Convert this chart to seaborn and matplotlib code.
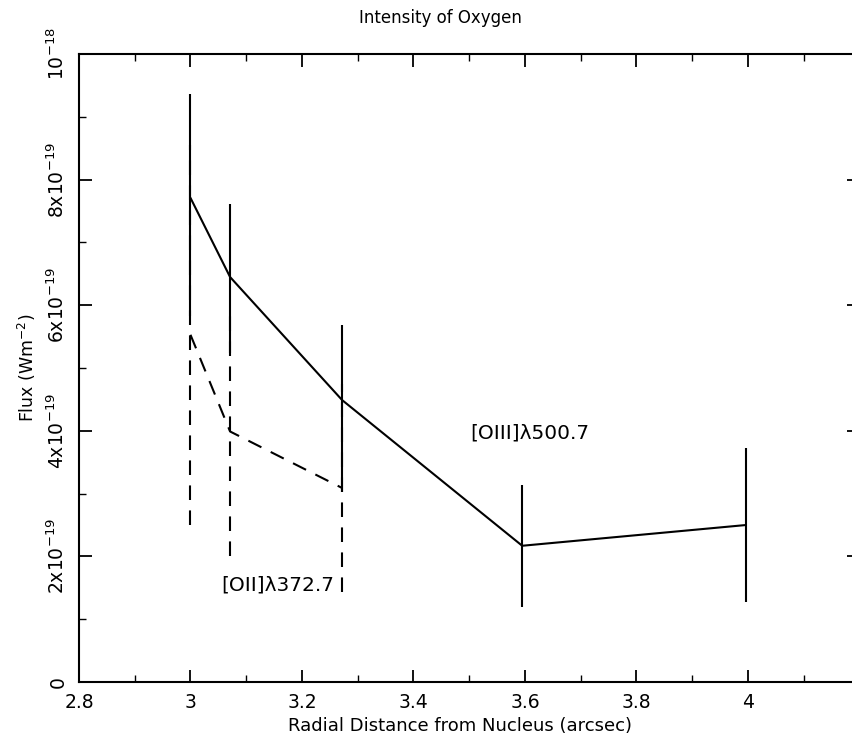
import numpy as np
import pandas as pd
import matplotlib
matplotlib.use("Agg")
import matplotlib.pyplot as plt
import seaborn as sns
from matplotlib.ticker import MultipleLocator, FixedLocator, FixedFormatter

# [OIII] 500.7 (solid)
x_oiii = [3.0, 3.071, 3.272, 3.595, 3.996]
f_oiii = [7.71e-19, 6.45e-19, 4.49e-19, 2.17e-19, 2.50e-19]
lo_oiii = [5.83e-19, 5.24e-19, 3.03e-19, 1.20e-19, 1.27e-19]
hi_oiii = [9.36e-19, 7.61e-19, 5.68e-19, 3.14e-19, 3.73e-19]

# [OII] 372.7 (dashed)
x_oii = [3.0, 3.071, 3.272]
f_oii = [5.53e-19, 3.99e-19, 3.09e-19]
lo_oii = [2.50e-19, 2.00e-19, 1.44e-19]
hi_oii = [8.56e-19, 5.98e-19, 4.74e-19]

ytick_vals = [0, 2e-19, 4e-19, 6e-19, 8e-19, 1e-18]
ytick_labels = ["0", r"$2\mathrm{x}10^{-19}$", r"$4\mathrm{x}10^{-19}$",
                r"$6\mathrm{x}10^{-19}$", r"$8\mathrm{x}10^{-19}$", r"$10^{-18}$"]

sns.set_style("ticks")
plt.rcParams['font.family'] = ['DejaVu Sans']
plt.rcParams['text.color'] = 'black'
plt.rcParams['axes.labelcolor'] = 'black'
plt.rcParams['xtick.color'] = 'black'
plt.rcParams['ytick.color'] = 'black'
plt.rcParams['mathtext.default'] = 'regular'

fig = plt.figure(figsize=(8.53, 7.44), dpi=100)
ax = fig.add_axes([0.0926, 0.0833, 0.915, 0.844])

dash = (0, (7, 5))
df1 = pd.DataFrame({'x': x_oiii, 'flux': f_oiii})
df2 = pd.DataFrame({'x': x_oii, 'flux': f_oii})
sns.lineplot(data=df1, x='x', y='flux', color='black', lw=1.5, ax=ax, sort=False)
sns.lineplot(data=df2, x='x', y='flux', color='black', lw=1.5, ax=ax, sort=False,
             linestyle=dash)
ax.vlines(x_oiii, lo_oiii, hi_oiii, color='black', lw=1.5)
ax.vlines(x_oii, lo_oii, hi_oii, color='black', lw=1.5, linestyles=[dash])

ax.set_xlim(2.8, 4.2)
ax.set_ylim(0, 1e-18)
ax.xaxis.set_minor_locator(MultipleLocator(0.1))
ax.yaxis.set_major_locator(FixedLocator(ytick_vals))
ax.yaxis.set_major_formatter(FixedFormatter(ytick_labels))
ax.yaxis.set_minor_locator(MultipleLocator(1e-19))
ax.set_xticks([2.8, 3.0, 3.2, 3.4, 3.6, 3.8, 4.0])
ax.set_xticklabels(["2.8", "3", "3.2", "3.4", "3.6", "3.8", "4"])

ax.tick_params(which='both', direction='in', top=True, right=True, color='black')
ax.tick_params(which='major', length=9, width=1.3, labelsize=13.5, pad=8)
ax.tick_params(which='minor', length=5, width=1.0)
for lab in ax.get_yticklabels():
    lab.set_rotation(90)
    lab.set_va('center')
for sp in ax.spines.values():
    sp.set_linewidth(1.5)
    sp.set_color('black')

ax.set_xlabel("Radial Distance from Nucleus (arcsec)", fontsize=13)
ax.xaxis.set_label_coords((460 - 79) / 780.5, -0.056)
ax.set_ylabel(r"Flux (Wm$^{-2}$)", fontsize=12.5, labelpad=6)

ax.text(3.056, 1.545e-19, "[OII]λ372.7", fontsize=14.5, va='center', ha='left')
ax.text(3.501, 3.96e-19, "[OIII]λ500.7", fontsize=14.5, va='center', ha='left')

fig.text(440 / 853, 1 - 18 / 744, "Intensity of Oxygen", fontsize=12, ha='center', va='center')

fig.savefig("out.png", dpi=100)
